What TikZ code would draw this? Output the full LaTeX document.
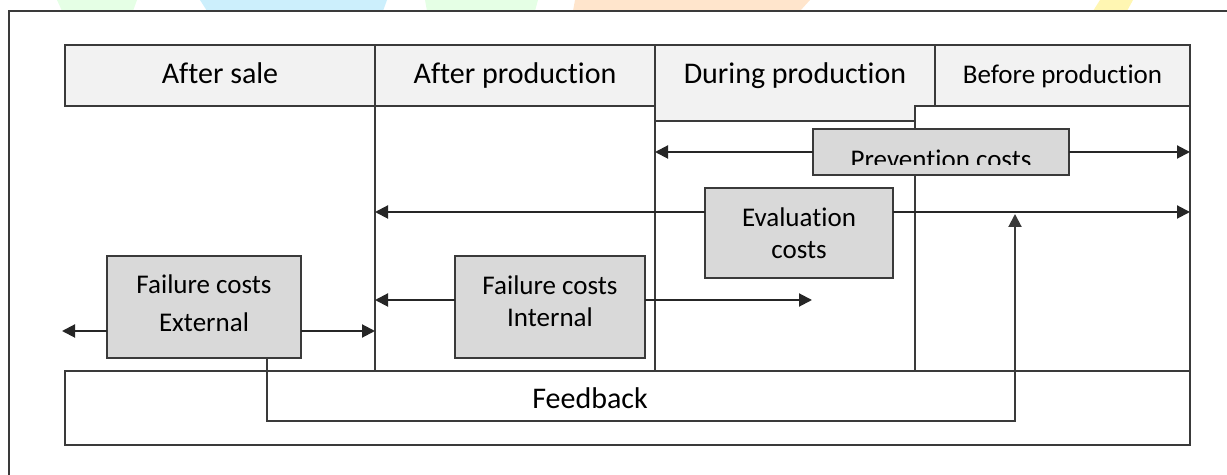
\documentclass[tikz,border=0pt]{standalone}
\usepackage{fontspec}
\setmainfont{Carlito}[Ligatures = NoCommon]
\usetikzlibrary{positioning, calc, arrows.meta}
\definecolor{linegray}{HTML}{3A3A3A}
\definecolor{headfill}{HTML}{F2F2F2}
\definecolor{costfill}{HTML}{D9D9D9}
\tikzset{
phase/.style = {rectangle, draw = linegray, line width = 0.9pt, fill = headfill,
   inner sep = 0pt, outer sep = 0pt, minimum height = 30.5pt,
   text height = 11pt, text depth = 2.5pt, font = \fontsize{15}{18}\selectfont},
phasetext/.style = {inner sep = 0pt, text height = 11pt, text depth = 2.5pt,
   font = \fontsize{15}{18}\selectfont},
cost/.style = {rectangle, draw = linegray, line width = 1pt, fill = costfill,
   inner sep = 0pt, outer sep = 0pt, align = center},
frame/.style = {rectangle, draw = linegray, line width = 1pt, inner sep = 0pt,
   outer sep = 0pt},
divider/.style = {draw = linegray, line width = 0.9pt},
flow/.style = {-{Triangle[length = 6.5pt, width = 6.5pt]}, line width = 1pt,
   draw = black!85},
feedback/.style = {draw = linegray, line width = 1pt,
   -{Triangle[length = 6.5pt, width = 6.5pt]}}
}

\begin{document}
\begin{tikzpicture}[x = 0.5pt, y = -0.5pt]
\useasboundingbox (0,0) rectangle (1227,475);

%% Watermark remains along the top edge
\fill [green!10] (57,0) -- (137,0) -- (133,11) -- (62,11) -- cycle;
\fill [cyan!20] (200,0) -- (387,0) -- (383,11) -- (207,11) -- cycle;
\fill [green!10] (425,0) -- (538,0) -- (535,11) -- (427,11) -- cycle;
\fill [orange!20] (575,0) -- (810,0) -- (800,11) -- (573,11) -- cycle;
\fill [orange!25!yellow!30] (1100,0) -- (1133,0) -- (1127,11) -- (1093,11) -- cycle;

%% Outer frame
\draw [draw = linegray, line width = 1.2pt] (9,475) -- (9,11) -- (1227,11);

%% Feedback band
\node [frame, minimum width = 562.5pt, minimum height = 37pt, anchor = north west]
   (fb) at (65,371) {};
\node [phasetext] (fbtext) at (590,400) {Feedback};

%% The phases
\node [phase, minimum width = 155pt, anchor = north west] (sale) at (65,45) {After sale};
\node [phase, minimum width = 140pt] (afterprod) [right = 0pt of sale] {After production};
\node [phase, minimum width = 127.5pt, anchor = north west, font = \fontsize{13.5}{16}\selectfont]
   (beforeprod) at (935,45) {Before production};
\path [draw = linegray, line width = 0.9pt, fill = headfill]
   (afterprod.north east) -- (beforeprod.north west) -- (beforeprod.south west)
   -- (915,106) -- (915,121) -- (655,121) -- cycle;
\node [phasetext] (during) at (795,75.5) {During production};

%% Column dividers
\draw [divider] (afterprod.south west) -- (afterprod.south west |- fb.north);
\draw [divider] (655,121) -- (655,121 |- fb.north);
\draw [divider] (915,121) -- (915,121 |- fb.north);
\draw [divider] (beforeprod.south east) -- (fb.north east);

%% Cost boxes
\node [cost, minimum width = 128pt, minimum height = 23pt, anchor = north west]
   (prev) at (813,129) {};
\node [cost, minimum width = 94pt, minimum height = 45pt, anchor = north west,
   font = \fontsize{13.5}{16}\selectfont] (eval) at (705,188) {Evaluation\\costs};
\node [cost, minimum width = 97pt, minimum height = 51pt, anchor = north west,
   text depth = 4pt, font = \fontsize{13.5}{19}\selectfont] (ext) at (107,256)
   {Failure costs\\External};
\node [cost, minimum width = 95pt, minimum height = 51pt, anchor = north west,
   text depth = 6pt, font = \fontsize{13.5}{16}\selectfont] (int) at (455,256)
   {Failure costs\\Internal};

\begin{scope}
\clip (prev.north west) rectangle (1069,165);
\node [font = \fontsize{13.5}{16}\selectfont, inner sep = 0pt] (prevtext) at (941,159)
   {Prevention costs};
\end{scope}

%% Spans of the costs
\draw [flow] (prev.west) -- (prev.west -| afterprod.east);
\draw [flow] (prev.east) -- (prev.east -| beforeprod.east);

\draw [flow] ([yshift = 10.5pt]eval.west) -- ([yshift = 10.5pt]eval.west -| sale.east);
\draw [flow] ([yshift = 10.5pt]eval.east) -- ([yshift = 10.5pt]eval.east -| beforeprod.east);

\coordinate (extleft) at (62,331);
\draw [flow] ([yshift = -12pt]ext.west) -- (extleft);
\draw [flow] ([yshift = -12pt]ext.east) -- ([yshift = -12pt]ext.east -| sale.east);

\coordinate (intright) at (812,300);
\draw [flow] ([yshift = 3.5pt]int.west) -- ([yshift = 3.5pt]int.west -| sale.east);
\draw [flow] ([yshift = 3.5pt]int.east) -- (intright);

%% Feedback loop
\coordinate (fbturn) at (1015,421);
\coordinate (fbtip) at (1015,214);
\draw [feedback] ([xshift = 31.5pt]ext.south) |- (fbturn) -- (fbtip);

\end{tikzpicture}
\end{document}
